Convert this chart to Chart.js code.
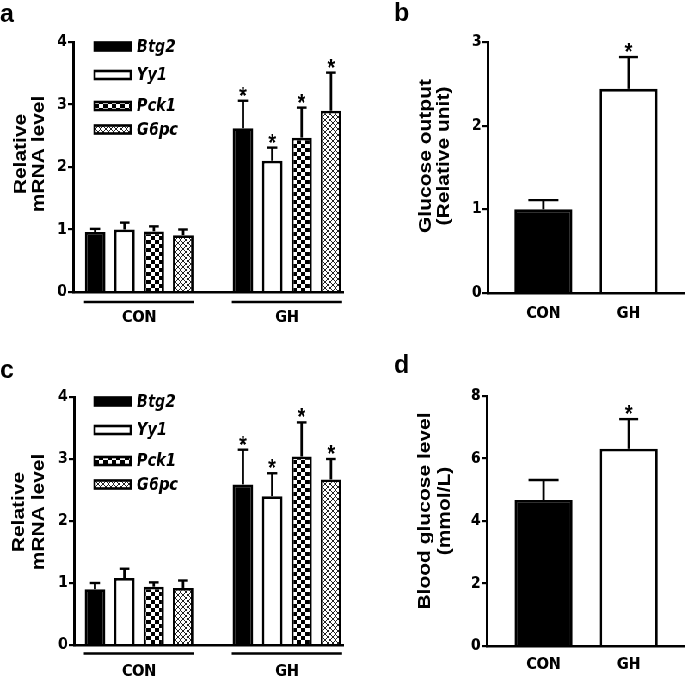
<!DOCTYPE html>
<html><head><meta charset="utf-8">
<script src="https://cdn.jsdelivr.net/npm/chart.js@4.4.1/dist/chart.umd.min.js"></script>
<style>
html,body{margin:0;padding:0;background:#fff;width:685px;height:683px;overflow:hidden;position:relative;}
#fig{position:absolute;left:0;top:0;width:797px;height:683px;transform:scaleX(0.86);transform-origin:0 0;}
#fig canvas{position:absolute;}
.lbl{position:absolute;font:bold 25px "Liberation Sans",Arial,sans-serif;line-height:25px;color:#000;}
</style></head><body>
<div id="fig">
<canvas id="ca" style="left:0px;top:0px"></canvas>
<canvas id="cb" style="left:405px;top:0px"></canvas>
<canvas id="cc" style="left:0px;top:340px"></canvas>
<canvas id="cd" style="left:405px;top:340px"></canvas>
</div>
<div class="lbl" style="left:0px;top:1px">a</div>
<div class="lbl" style="left:394px;top:0px">b</div>
<div class="lbl" style="left:0px;top:357px">c</div>
<div class="lbl" style="left:394px;top:352px">d</div>
<script>
// ---------------- data ----------------
const groups = ['CON', 'GH'];
const genes = ['Btg2', 'Yy1', 'Pck1', 'G6pc'];
const stars = ['', '*'];

const yTicksMRNA = [0, 1, 2, 3, 4];
const yTicksGlucose = [0, 1, 2, 3];
const yTicksBlood = [0, 2, 4, 6, 8];

// panel a: relative mRNA level (mean, SEM)
const aBtg2 = [0.96, 2.62], aBtg2Err = [0.05, 0.44];
const aYy1  = [1.00, 2.10], aYy1Err  = [0.11, 0.21];
const aPck1 = [0.97, 2.47], aPck1Err = [0.08, 0.48];
const aG6pc = [0.91, 2.90], aG6pcErr = [0.09, 0.61];

// panel b: glucose output (relative unit)
const bGlucose = [1.00, 2.44], bGlucoseErr = [0.11, 0.38];

// panel c: relative mRNA level
const cBtg2 = [0.90, 2.59], cBtg2Err = [0.10, 0.56];
const cYy1  = [1.08, 2.40], cYy1Err  = [0.15, 0.37];
const cPck1 = [0.94, 3.04], cPck1Err = [0.07, 0.55];
const cG6pc = [0.92, 2.67], cG6pcErr = [0.12, 0.33];

// panel d: blood glucose level (mmol/L)
const dBlood = [4.67, 6.31], dBloodErr = [0.64, 0.95];

// ---------------- styles ----------------
const FONT = '"Liberation Sans", Arial, Helvetica, sans-serif';
const FONT2 = '"DejaVu Sans", "Liberation Sans", Arial, sans-serif';

function makeChecker() {
  const c = document.createElement('canvas'); c.width = 10; c.height = 8;
  const g = c.getContext('2d');
  g.fillStyle = '#fff'; g.fillRect(0, 0, 10, 8);
  g.fillStyle = '#000'; g.fillRect(0, 0, 5, 4); g.fillRect(5, 4, 5, 4);
  return g.createPattern(c, 'repeat');
}
function makeHatch() {
  const c = document.createElement('canvas'); c.width = 6; c.height = 6;
  const g = c.getContext('2d');
  g.fillStyle = '#fff'; g.fillRect(0, 0, 6, 6);
  g.strokeStyle = '#222'; g.lineWidth = 1;
  g.beginPath(); g.moveTo(-1, -1); g.lineTo(7, 7); g.moveTo(7, -1); g.lineTo(-1, 7); g.stroke();
  return g.createPattern(c, 'repeat');
}
const fills = { solid: '#000', open: '#fff', checker: makeChecker(), hatch: makeHatch() };

function makePanel(id, cfg) {
  const canvas = document.getElementById(id);
  canvas.width = cfg.w; canvas.height = cfg.h;
  const ticks = cfg.yTicks;
  const datasets = cfg.series.map(s => ({
    label: s.label,
    data: groups.map((g, i) => ({ x: i, y: s.values[i] })),
    errs: s.errs,
    backgroundColor: Array.isArray(s.style) ? s.style.map(k => fills[k]) : fills[s.style],
    borderColor: '#000',
    borderWidth: 2.8,
    borderSkipped: 'start',
    categoryPercentage: cfg.catPct,
    barPercentage: cfg.barPct
  }));

  const panelPlugin = {
    id: 'panel_' + id,
    afterDatasetsDraw(chart) {
      const ctx = chart.ctx, ys = chart.scales.y, xs = chart.scales.x, area = chart.chartArea;
      ctx.save();
      ctx.strokeStyle = '#000'; ctx.fillStyle = '#000';
      // error bars + significance stars
      chart.data.datasets.forEach((ds, di) => {
        const meta = chart.getDatasetMeta(di);
        meta.data.forEach((bar, i) => {
          const cx = bar.x, top = bar.y;
          const eTop = ys.getPixelForValue(ds.data[i].y + ds.errs[i]);
          ctx.lineWidth = 2.8;
          ctx.beginPath(); ctx.moveTo(cx, top); ctx.lineTo(cx, eTop); ctx.stroke();
          const cw = cfg.capW[i];
          ctx.lineWidth = 2.4;
          ctx.beginPath(); ctx.moveTo(cx - cw / 2, eTop); ctx.lineTo(cx + cw / 2, eTop); ctx.stroke();
          if (stars[i]) {
            ctx.font = 'bold 23px ' + FONT;
            ctx.textAlign = 'center'; ctx.textBaseline = 'alphabetic';
            ctx.fillText(stars[i], cx, eTop + 3);
          }
        });
      });
      // group labels (with underlines for grouped panels)
      ctx.font = 'bold 16.5px ' + FONT2;
      ctx.textAlign = 'center'; ctx.textBaseline = 'middle';
      groups.forEach((g, i) => {
        const cx = xs.getPixelForValue(i);
        if (cfg.underline) {
          let l = Infinity, r = -Infinity;
          chart.data.datasets.forEach((ds, di) => {
            const b = chart.getDatasetMeta(di).data[i];
            l = Math.min(l, b.x - b.width / 2); r = Math.max(r, b.x + b.width / 2);
          });
          ctx.lineWidth = 2.4;
          ctx.beginPath(); ctx.moveTo(l - 1, area.bottom + cfg.lineOff); ctx.lineTo(r + 1, area.bottom + cfg.lineOff); ctx.stroke();
        }
        ctx.fillText(g, cx, area.bottom + cfg.labelOff);
      });
      // y-axis title
      ctx.font = 'bold 21px ' + FONT;
      cfg.title.forEach((t, k) => {
        ctx.save();
        ctx.translate(cfg.titleX[k], cfg.titleY);
        ctx.rotate(-Math.PI / 2);
        ctx.textAlign = 'center'; ctx.textBaseline = 'middle';
        ctx.fillText(t, 0, 0);
        ctx.restore();
      });
      // legend
      if (cfg.legend) {
        chart.data.datasets.forEach((ds, di) => {
          const yy = area.top + cfg.legendY[di];
          ctx.fillStyle = ds.backgroundColor;
          ctx.fillRect(cfg.legendX, yy - 4, 42, 8);
          ctx.lineWidth = 2.6; ctx.strokeStyle = '#000';
          ctx.strokeRect(cfg.legendX, yy - 4, 42, 8);
          ctx.fillStyle = '#000';
          ctx.font = 'italic bold 17px ' + FONT2;
          ctx.textAlign = 'left'; ctx.textBaseline = 'middle';
          ctx.fillText(ds.label, cfg.legendX + 49, yy + 1);
        });
      }
      ctx.restore();
    }
  };

  return new Chart(canvas, {
    type: 'bar',
    data: { datasets },
    options: {
      responsive: false, animation: false, devicePixelRatio: 1,
      layout: { padding: { left: 0, top: cfg.top, right: cfg.w - cfg.right, bottom: 0 } },
      plugins: { legend: { display: false }, tooltip: { enabled: false } },
      scales: {
        x: {
          type: 'linear', min: cfg.xMin, max: cfg.xMax, offset: false,
          afterBuildTicks: s => { s.ticks = groups.map((g, i) => ({ value: i })); },
          afterFit: s => { s.height = cfg.h - cfg.bottom; },
          ticks: { display: false },
          grid: { display: false },
          border: { display: true, color: '#000', width: 2.6 }
        },
        y: {
          min: ticks[0], max: ticks[ticks.length - 1],
          afterBuildTicks: s => { s.ticks = ticks.map(v => ({ value: v })); },
          afterFit: s => { s.width = cfg.left; },
          ticks: { color: '#000', padding: 1, font: { family: FONT2, size: 16, weight: 'bold' } },
          grid: { display: true, drawOnChartArea: false, drawTicks: true, tickLength: 6, color: '#000', lineWidth: 2.2 },
          border: { display: true, color: '#000', width: 3 }
        }
      }
    },
    plugins: [panelPlugin]
  });
}

// panel a
makePanel('ca', {
  w: 405, h: 340, left: 85, right: 399, top: 42, bottom: 292,
  xMin: -0.447, xMax: 1.38, catPct: 0.794, barPct: 0.70,
  yTicks: yTicksMRNA,
  series: [
    { label: genes[0], style: 'solid', values: aBtg2, errs: aBtg2Err },
    { label: genes[1], style: 'open', values: aYy1, errs: aYy1Err },
    { label: genes[2], style: 'checker', values: aPck1, errs: aPck1Err },
    { label: genes[3], style: 'hatch', values: aG6pc, errs: aG6pcErr }
  ],
  capW: [11.6, 11.6], underline: true, lineOff: 10, labelOff: 26,
  title: ['Relative', 'mRNA level'], titleX: [24.4, 45.3], titleY: 154,
  legend: true, legendX: 110, legendY: [4.5, 33, 64, 87.5]
});

// panel b
makePanel('cb', {
  w: 392, h: 340, left: 162, right: 392, top: 42, bottom: 293,
  xMin: -0.655, xMax: 1.667, catPct: 1, barPct: 0.68,
  yTicks: yTicksGlucose,
  series: [ { label: 'Glucose output', style: ['solid', 'open'], values: bGlucose, errs: bGlucoseErr } ],
  capW: [35, 22], underline: false, labelOff: 20.5,
  title: ['Glucose output', '(Relative unit)'], titleX: [90.3, 111.3], titleY: 156,
  legend: false
});

// panel c
makePanel('cc', {
  w: 405, h: 343, left: 86, right: 399, top: 57, bottom: 305,
  xMin: -0.44, xMax: 1.38, catPct: 0.794, barPct: 0.70,
  yTicks: yTicksMRNA,
  series: [
    { label: genes[0], style: 'solid', values: cBtg2, errs: cBtg2Err },
    { label: genes[1], style: 'open', values: cYy1, errs: cYy1Err },
    { label: genes[2], style: 'checker', values: cPck1, errs: cPck1Err },
    { label: genes[3], style: 'hatch', values: cG6pc, errs: cG6pcErr }
  ],
  capW: [11.6, 11.6], underline: true, lineOff: 8.5, labelOff: 26.5,
  title: ['Relative', 'mRNA level'], titleX: [22.1, 44.8], titleY: 172,
  legend: true, legendX: 110, legendY: [4.5, 33, 64, 87.5]
});

// panel d
makePanel('cd', {
  w: 392, h: 343, left: 161, right: 392, top: 56, bottom: 306,
  xMin: -0.667, xMax: 1.665, catPct: 1, barPct: 0.68,
  yTicks: yTicksBlood,
  series: [ { label: 'Blood glucose level', style: ['solid', 'open'], values: dBlood, errs: dBloodErr } ],
  capW: [35, 22], underline: false, labelOff: 19,
  title: ['Blood glucose level', '(mmol/L)'], titleX: [89.2, 112.4], titleY: 171,
  legend: false
});
</script>
</body></html>
